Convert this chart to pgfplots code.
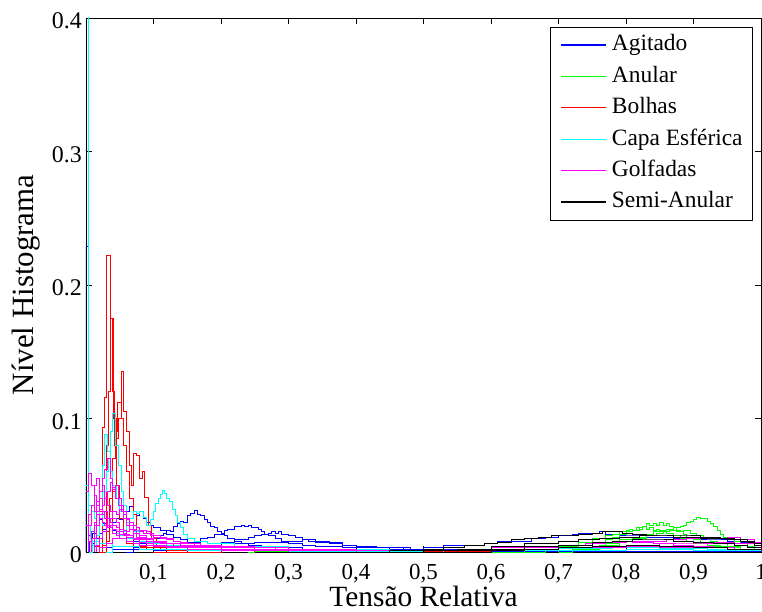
\documentclass[border=0pt]{standalone}
\usepackage{fontspec}
\setmainfont{Liberation Serif}
\usepackage{pgfplots}
\pgfplotsset{compat=1.18}
\definecolor{mBlue}{RGB}{0,0,255}
\definecolor{mGreen}{RGB}{0,255,0}
\definecolor{mRed}{RGB}{255,0,0}
\definecolor{mCyan}{RGB}{0,255,255}
\definecolor{mMag}{RGB}{255,0,255}
\definecolor{mBlack}{RGB}{0,0,0}
\pgfplotsset{hist/.style={const plot mark left, no markers, line width=1bp, color=#1, draw=#1, forget plot}}
\begin{document}
\begin{tikzpicture}
\path[use as bounding box] (-86bp,-60bp) rectangle (676bp,552bp);
\begin{axis}[
  at={(0,0)}, anchor=south west,
  scale only axis, width=675bp, height=534bp,
  xmin=0, xmax=1, ymin=0, ymax=0.4,
  xtick={0.1,0.2,0.3,0.4,0.5,0.6,0.7,0.8,0.9,1},
  xticklabels={{0,1},{0,2},{0,3},{0,4},{0,5},{0,6},{0,7},{0,8},{0,9},{1}},
  ytick={0,0.1,0.2,0.3,0.4},
  yticklabels={0,0.1,0.2,0.3,0.4},
  tick align=inside, major tick length=6bp,
  tick style={black, line width=0.6bp},
  axis line style={black, line width=0.8bp},
  xticklabel style={font=\fontsize{23}{25}\selectfont, inner sep=0pt, yshift=-12bp},
  yticklabel style={font=\fontsize{24}{26}\selectfont, inner sep=0pt, xshift=-4bp, yshift=-3bp},
  xlabel={Tensão Relativa},
  ylabel={Nível Histograma},
  xlabel style={font=\fontsize{29.5}{32}\selectfont, inner sep=0pt, at={(axis description cs:0.5,-0.1027)}, anchor=base},
  ylabel style={font=\fontsize{31}{34}\selectfont, at={(axis description cs:-0.089,0.5)}, anchor=center},
  legend cell align=left,
  legend image code/.code={\draw[#1] (0bp,0.5bp) -- (45bp,0.5bp);},
  legend style={at={(rel axis cs:1,1)}, anchor=north east, xshift=-8bp, yshift=-9bp,
    line width=0.8bp, font=\fontsize{23.5}{26}\selectfont,
    inner xsep=10bp, inner ysep=6.5bp, row sep=8.4bp,
    nodes={inner sep=0pt, text height=17bp, text depth=6bp},
    /tikz/every odd column/.append style={column sep=5bp}},
]
% ---------------- Agitado (blue)
\addplot[hist=mBlue] coordinates {(0,0)(0,0.229)(0.004,0.012)(0.008,0.006)(0.012,0.004)(0.02,0.003)(0.04,0.002)(0.1,0.001)(0.3,0.0005)(1,0)};
\addplot[hist=mBlue] coordinates {(0.06,0)(0.07,0.003)(0.08,0.004)(0.09,0.006)(0.1,0.008)(0.105,0.01)(0.11,0.012)(0.115,0.014)(0.12,0.016)(0.125,0.015)(0.13,0.019)(0.135,0.021)(0.14,0.023)(0.145,0.022)(0.15,0.027)(0.155,0.029)(0.16,0.031)(0.165,0.028)(0.17,0.027)(0.175,0.024)(0.18,0.022)(0.185,0.019)(0.19,0.018)(0.195,0.015)(0.2,0.013)(0.205,0.012)(0.21,0.01)(0.22,0.008)(0.23,0.006)(0.24,0.005)(0.26,0.004)(0.28,0.003)(0.32,0.002)(0.4,0.001)(0.5,0.0005)(0.6,0)};
\addplot[hist=mBlue] coordinates {(0.1,0)(0.12,0.004)(0.14,0.006)(0.16,0.008)(0.17,0.01)(0.18,0.011)(0.19,0.013)(0.2,0.014)(0.205,0.016)(0.21,0.017)(0.215,0.017)(0.22,0.019)(0.225,0.019)(0.23,0.02)(0.235,0.019)(0.24,0.02)(0.245,0.018)(0.25,0.018)(0.255,0.017)(0.26,0.015)(0.265,0.013)(0.27,0.012)(0.28,0.01)(0.29,0.008)(0.3,0.006)(0.32,0.005)(0.34,0.004)(0.38,0.003)(0.45,0.002)(0.55,0.001)(0.65,0)};
\addplot[hist=mBlue] coordinates {(0.13,0)(0.15,0.003)(0.18,0.005)(0.2,0.007)(0.22,0.009)(0.24,0.011)(0.25,0.012)(0.26,0.013)(0.27,0.014)(0.275,0.015)(0.28,0.014)(0.285,0.015)(0.29,0.013)(0.3,0.012)(0.31,0.011)(0.32,0.009)(0.33,0.008)(0.34,0.007)(0.36,0.006)(0.38,0.005)(0.4,0.004)(0.43,0.003)(0.48,0.002)(0.55,0.001)(0.65,0)};
\addplot[hist=mBlue] coordinates {(0.005,0)(0.01,0.005)(0.015,0.01)(0.02,0.014)(0.025,0.017)(0.03,0.02)(0.035,0.018)(0.04,0.022)(0.045,0.025)(0.05,0.024)(0.055,0.028)(0.06,0.03)(0.065,0.034)(0.07,0.03)(0.075,0.027)(0.08,0.03)(0.085,0.025)(0.09,0.022)(0.095,0.02)(0.1,0.018)(0.11,0.016)(0.12,0.013)(0.13,0.011)(0.14,0.009)(0.15,0.007)(0.17,0.005)(0.2,0.004)(0.25,0.003)(0.3,0.002)(0.4,0.001)(0.5,0)};
\addplot[hist=mBlue] coordinates {(0.005,0)(0.005,0.008)(0.01,0.014)(0.015,0.02)(0.02,0.024)(0.025,0.021)(0.03,0.018)(0.035,0.02)(0.04,0.016)(0.045,0.014)(0.05,0.012)(0.06,0.01)(0.07,0.008)(0.08,0.006)(0.1,0.005)(0.12,0.004)(0.15,0.003)(0.2,0.002)(0.3,0.001)(0.4,0)};
\addplot[hist=mBlue] coordinates {(0.12,0)(0.15,0.004)(0.2,0.006)(0.25,0.007)(0.3,0.008)(0.32,0.009)(0.34,0.008)(0.36,0.007)(0.38,0.005)(0.4,0.004)(0.43,0.003)(0.47,0.002)(0.5,0.002)(0.55,0.002)(0.6,0.001)(0.7,0)};
\addplot[hist=mBlue] coordinates {(0.4,0)(0.45,0.002)(0.5,0.003)(0.53,0.0045)(0.56,0.005)(0.59,0.006)(0.61,0.0075)(0.64,0.008)(0.66,0.01)(0.68,0.011)(0.7,0.012)(0.72,0.013)(0.73,0.014)(0.75,0.014)(0.76,0.015)(0.77,0.013)(0.79,0.012)(0.81,0.012)(0.83,0.011)(0.85,0.011)(0.87,0.01)(0.89,0.01)(0.91,0.009)(0.93,0.009)(0.95,0.008)(0.97,0.007)(0.99,0.005)(1,0)};
% ---------------- Anular (green)
\addplot[hist=mGreen] coordinates {(0.7,0)(0.7,0.001)(0.74,0.003)(0.77,0.006)(0.79,0.009)(0.81,0.011)(0.83,0.013)(0.84,0.015)(0.85,0.016)(0.86,0.017)(0.87,0.018)(0.88,0.019)(0.885,0.02)(0.89,0.022)(0.895,0.023)(0.9,0.024)(0.905,0.026)(0.91,0.025)(0.915,0.025)(0.92,0.023)(0.925,0.021)(0.93,0.019)(0.935,0.016)(0.94,0.013)(0.945,0.011)(0.95,0.009)(0.96,0.008)(0.97,0.006)(0.98,0.004)(0.99,0.002)(1,0)};
\addplot[hist=mGreen] coordinates {(0.65,0)(0.68,0.001)(0.72,0.003)(0.75,0.006)(0.77,0.009)(0.78,0.011)(0.79,0.013)(0.8,0.015)(0.81,0.016)(0.82,0.018)(0.825,0.019)(0.83,0.021)(0.835,0.02)(0.84,0.021)(0.845,0.02)(0.85,0.022)(0.855,0.02)(0.86,0.021)(0.865,0.019)(0.87,0.018)(0.875,0.016)(0.88,0.015)(0.885,0.013)(0.89,0.011)(0.9,0.009)(0.91,0.007)(0.92,0.005)(0.94,0.003)(0.97,0.001)(1,0)};
\addplot[hist=mGreen] coordinates {(0.6,0)(0.65,0.001)(0.7,0.004)(0.73,0.007)(0.75,0.01)(0.77,0.012)(0.78,0.013)(0.79,0.015)(0.8,0.016)(0.805,0.017)(0.81,0.016)(0.815,0.018)(0.82,0.017)(0.825,0.019)(0.83,0.017)(0.835,0.018)(0.84,0.016)(0.845,0.017)(0.85,0.015)(0.86,0.014)(0.87,0.012)(0.88,0.01)(0.89,0.008)(0.9,0.006)(0.92,0.004)(0.95,0.002)(1,0)};
\addplot[hist=mGreen] coordinates {(0.7,0)(0.72,0.002)(0.76,0.005)(0.79,0.008)(0.81,0.01)(0.83,0.012)(0.845,0.014)(0.855,0.015)(0.865,0.016)(0.875,0.015)(0.885,0.016)(0.895,0.014)(0.905,0.012)(0.915,0.01)(0.925,0.008)(0.935,0.006)(0.95,0.004)(0.97,0.002)(1,0)};
\addplot[hist=mGreen] coordinates {(0.24,0)(0.25,0.0006)(0.28,0.0004)(0.32,0)};
% ---------------- Bolhas (red)
\addplot[hist=mRed] coordinates {(0.015,0)(0.015,0.004)(0.02,0.03)(0.024,0.093)(0.027,0.116)(0.031,0.222)(0.036,0.175)(0.039,0.12)(0.042,0.08)(0.045,0.05)(0.05,0.03)(0.055,0.015)(0.06,0.008)(0.07,0.004)(0.09,0.002)(0.15,0.001)(0.3,0.0005)(0.6,0)};
\addplot[hist=mRed] coordinates {(0.025,0)(0.03,0.008)(0.035,0.02)(0.04,0.045)(0.045,0.085)(0.048,0.1)(0.052,0.135)(0.056,0.105)(0.06,0.09)(0.064,0.065)(0.068,0.05)(0.071,0.074)(0.075,0.072)(0.079,0.055)(0.083,0.06)(0.087,0.041)(0.092,0.02)(0.097,0.01)(0.105,0.005)(0.12,0.003)(0.2,0.001)(0.4,0)};
\addplot[hist=mRed] coordinates {(0.02,0)(0.025,0.005)(0.03,0.015)(0.035,0.04)(0.04,0.07)(0.043,0.09)(0.047,0.112)(0.052,0.1)(0.056,0.08)(0.06,0.06)(0.065,0.04)(0.07,0.028)(0.075,0.018)(0.08,0.01)(0.09,0.005)(0.11,0.002)(0.2,0.001)(0.3,0)};
\addplot[hist=mRed] coordinates {(0.02,0)(0.025,0.02)(0.03,0.08)(0.034,0.12)(0.037,0.175)(0.041,0.1)(0.045,0.05)(0.05,0.025)(0.055,0.012)(0.06,0.006)(0.08,0.003)(0.12,0.001)(0.25,0)};
\addplot[hist=mRed] coordinates {(0.1,0)(0.2,0.0008)(0.3,0.0006)(0.4,0.0005)(0.5,0.0004)(0.55,0)};
% ---------------- Capa Esferica (cyan)
\addplot[hist=mCyan] coordinates {(0,0)(0,0.45)(0.003,0.02)(0.006,0.01)(0.01,0.008)(0.02,0.006)(0.04,0.004)(0.08,0.002)(0.15,0.001)(0.3,0.0005)(0.5,0)};
\addplot[hist=mCyan] coordinates {(0.005,0)(0.01,0.005)(0.015,0.012)(0.02,0.025)(0.025,0.045)(0.03,0.06)(0.033,0.07)(0.036,0.09)(0.04,0.104)(0.044,0.08)(0.048,0.065)(0.052,0.045)(0.056,0.035)(0.06,0.025)(0.065,0.02)(0.07,0.015)(0.08,0.01)(0.09,0.007)(0.1,0.005)(0.15,0.003)(0.25,0.001)(0.4,0)};
\addplot[hist=mCyan] coordinates {(0.005,0)(0.01,0.01)(0.015,0.02)(0.02,0.04)(0.025,0.065)(0.028,0.088)(0.032,0.075)(0.036,0.06)(0.04,0.05)(0.045,0.04)(0.05,0.03)(0.055,0.03)(0.06,0.022)(0.065,0.02)(0.07,0.016)(0.08,0.012)(0.09,0.008)(0.1,0.006)(0.12,0.004)(0.2,0.002)(0.35,0)};
\addplot[hist=mCyan] coordinates {(0.03,0)(0.04,0.01)(0.05,0.015)(0.06,0.02)(0.065,0.025)(0.07,0.03)(0.075,0.029)(0.08,0.03)(0.085,0.026)(0.09,0.02)(0.095,0.024)(0.1,0.03)(0.103,0.036)(0.107,0.04)(0.11,0.043)(0.113,0.046)(0.117,0.044)(0.12,0.04)(0.124,0.038)(0.128,0.032)(0.132,0.027)(0.136,0.022)(0.14,0.018)(0.145,0.013)(0.15,0.01)(0.16,0.008)(0.18,0.006)(0.22,0.004)(0.3,0.002)(0.45,0.001)(0.6,0)};
\addplot[hist=mCyan] coordinates {(0,0)(0,0.05)(0.004,0.035)(0.008,0.03)(0.012,0.025)(0.016,0.03)(0.02,0.025)(0.025,0.02)(0.03,0.018)(0.04,0.014)(0.05,0.012)(0.06,0.01)(0.08,0.008)(0.1,0.006)(0.13,0.005)(0.18,0.003)(0.25,0.002)(0.4,0.001)(0.6,0)};
\addplot[hist=mCyan] coordinates {(0.5,0)(0.53,0.0008)(0.6,0.001)(0.7,0.0012)(0.8,0.0015)(0.9,0.0012)(0.97,0.0008)(1,0)};
\addplot[hist=mCyan] coordinates {(0.55,0)(0.6,0.002)(0.7,0.0025)(0.78,0.003)(0.85,0.0025)(0.92,0.002)(1,0)};
% ---------------- Golfadas (magenta)
\addplot[hist=mMag] coordinates {(0,0)(0,0.045)(0.004,0.059)(0.008,0.05)(0.012,0.042)(0.016,0.035)(0.02,0.04)(0.024,0.03)(0.028,0.025)(0.032,0.02)(0.036,0.018)(0.04,0.014)(0.045,0.012)(0.05,0.01)(0.06,0.008)(0.07,0.006)(0.08,0.005)(0.1,0.004)(0.12,0.003)(0.15,0.002)(0.2,0.001)(0.3,0)};
\addplot[hist=mMag] coordinates {(0.004,0)(0.004,0.02)(0.008,0.035)(0.012,0.05)(0.016,0.055)(0.02,0.045)(0.024,0.05)(0.028,0.04)(0.032,0.035)(0.036,0.03)(0.04,0.025)(0.045,0.022)(0.05,0.017)(0.055,0.014)(0.06,0.012)(0.07,0.009)(0.08,0.007)(0.09,0.006)(0.1,0.005)(0.12,0.004)(0.15,0.003)(0.2,0.002)(0.3,0.001)(0.4,0)};
\addplot[hist=mMag] coordinates {(0.008,0)(0.008,0.01)(0.012,0.02)(0.016,0.03)(0.02,0.045)(0.024,0.055)(0.028,0.062)(0.032,0.07)(0.036,0.055)(0.04,0.048)(0.044,0.04)(0.048,0.035)(0.052,0.03)(0.056,0.025)(0.06,0.02)(0.065,0.017)(0.07,0.014)(0.08,0.011)(0.09,0.009)(0.1,0.007)(0.11,0.006)(0.13,0.004)(0.16,0.003)(0.2,0.002)(0.3,0.001)(0.4,0)};
\addplot[hist=mMag] coordinates {(0.012,0)(0.012,0.01)(0.016,0.02)(0.02,0.028)(0.024,0.035)(0.028,0.04)(0.032,0.045)(0.036,0.052)(0.04,0.047)(0.044,0.05)(0.048,0.04)(0.052,0.035)(0.056,0.028)(0.06,0.024)(0.065,0.02)(0.07,0.017)(0.075,0.014)(0.08,0.012)(0.09,0.01)(0.1,0.008)(0.12,0.006)(0.14,0.004)(0.18,0.003)(0.25,0.002)(0.35,0.001)(0.5,0)};
\addplot[hist=mMag] coordinates {(0,0)(0,0.02)(0.004,0.028)(0.008,0.035)(0.012,0.03)(0.016,0.038)(0.02,0.032)(0.024,0.028)(0.028,0.03)(0.032,0.025)(0.036,0.022)(0.04,0.02)(0.045,0.018)(0.05,0.015)(0.055,0.016)(0.06,0.013)(0.065,0.012)(0.07,0.014)(0.075,0.011)(0.08,0.01)(0.09,0.009)(0.1,0.008)(0.11,0.007)(0.12,0.006)(0.14,0.005)(0.16,0.004)(0.2,0.003)(0.25,0.002)(0.35,0.001)(0.5,0)};
\addplot[hist=mMag] coordinates {(0.016,0)(0.016,0.005)(0.02,0.01)(0.025,0.015)(0.03,0.02)(0.035,0.025)(0.04,0.03)(0.045,0.028)(0.05,0.032)(0.055,0.03)(0.06,0.025)(0.065,0.022)(0.07,0.02)(0.075,0.018)(0.08,0.016)(0.085,0.014)(0.09,0.015)(0.095,0.012)(0.1,0.011)(0.11,0.01)(0.12,0.009)(0.13,0.008)(0.14,0.006)(0.16,0.005)(0.18,0.004)(0.22,0.003)(0.28,0.002)(0.4,0.001)(0.55,0)};
\addplot[hist=mMag] coordinates {(0.004,0)(0.004,0.008)(0.008,0.015)(0.012,0.022)(0.016,0.028)(0.02,0.025)(0.024,0.022)(0.028,0.02)(0.032,0.018)(0.036,0.02)(0.04,0.017)(0.045,0.015)(0.05,0.013)(0.055,0.012)(0.06,0.011)(0.07,0.01)(0.08,0.009)(0.09,0.008)(0.1,0.007)(0.12,0.006)(0.14,0.005)(0.17,0.004)(0.2,0.003)(0.25,0.002)(0.35,0.001)(0.5,0)};
\addplot[hist=mMag] coordinates {(0.02,0)(0.02,0.003)(0.03,0.006)(0.04,0.01)(0.05,0.013)(0.06,0.015)(0.065,0.017)(0.07,0.016)(0.075,0.018)(0.08,0.015)(0.085,0.016)(0.09,0.014)(0.1,0.012)(0.11,0.011)(0.12,0.01)(0.13,0.008)(0.14,0.007)(0.15,0.006)(0.17,0.005)(0.2,0.004)(0.25,0.003)(0.3,0.002)(0.4,0.001)(0.55,0)};
\addplot[hist=mMag] coordinates {(0.45,0)(0.5,0.001)(0.55,0.002)(0.6,0.003)(0.65,0.004)(0.7,0.005)(0.74,0.006)(0.77,0.007)(0.8,0.008)(0.83,0.008)(0.86,0.009)(0.89,0.01)(0.92,0.01)(0.95,0.011)(0.97,0.009)(0.99,0.007)(1,0)};
\addplot[hist=mMag] coordinates {(0.5,0)(0.55,0.001)(0.6,0.002)(0.65,0.003)(0.7,0.005)(0.74,0.006)(0.77,0.007)(0.79,0.008)(0.81,0.007)(0.84,0.006)(0.87,0.005)(0.9,0.004)(0.93,0.003)(0.96,0.002)(1,0)};
\addplot[hist=mMag] coordinates {(0.55,0)(0.6,0.001)(0.65,0.002)(0.7,0.003)(0.75,0.004)(0.8,0.005)(0.85,0.006)(0.9,0.006)(0.93,0.007)(0.96,0.006)(0.99,0.005)(1,0)};
\addplot[hist=mMag] coordinates {(0.5,0)(0.55,0.001)(0.6,0.0015)(0.65,0.002)(0.7,0.003)(0.75,0.0035)(0.8,0.004)(0.85,0.0035)(0.9,0.003)(0.95,0.002)(1,0)};
% ---------------- Semi-Anular (black)
\addplot[hist=mBlack] coordinates {(0.4,0)(0.45,0.001)(0.5,0.002)(0.53,0.003)(0.56,0.005)(0.59,0.006)(0.61,0.007)(0.63,0.009)(0.65,0.01)(0.67,0.011)(0.69,0.012)(0.71,0.012)(0.73,0.013)(0.75,0.014)(0.765,0.015)(0.78,0.015)(0.795,0.014)(0.81,0.013)(0.83,0.012)(0.85,0.012)(0.87,0.011)(0.89,0.011)(0.91,0.01)(0.93,0.01)(0.95,0.009)(0.97,0.008)(0.99,0.006)(1,0)};
\addplot[hist=mBlack] coordinates {(0.45,0)(0.5,0.001)(0.55,0.002)(0.6,0.004)(0.65,0.006)(0.7,0.008)(0.73,0.009)(0.76,0.01)(0.79,0.011)(0.82,0.012)(0.85,0.012)(0.88,0.012)(0.91,0.011)(0.94,0.01)(0.96,0.009)(0.98,0.007)(0.99,0.005)(1,0)};
\addplot[hist=mBlack] coordinates {(0.5,0)(0.55,0.001)(0.6,0.002)(0.65,0.004)(0.7,0.005)(0.75,0.007)(0.78,0.008)(0.81,0.009)(0.84,0.009)(0.87,0.008)(0.9,0.007)(0.93,0.006)(0.96,0.005)(0.98,0.003)(1,0)};
\addplot[hist=mBlack] coordinates {(0.5,0)(0.6,0.001)(0.65,0.002)(0.7,0.003)(0.75,0.004)(0.8,0.005)(0.85,0.004)(0.9,0.003)(0.95,0.002)(1,0)};
% ---------------- legend
\addlegendimage{draw=mBlue, line width=1.2bp}
\addlegendentry{Agitado}
\addlegendimage{draw=mGreen, line width=1.2bp}
\addlegendentry{Anular}
\addlegendimage{draw=mRed, line width=1.2bp}
\addlegendentry{Bolhas}
\addlegendimage{draw=mCyan, line width=1.2bp}
\addlegendentry{Capa Esférica}
\addlegendimage{draw=mMag, line width=1.2bp}
\addlegendentry{Golfadas}
\addlegendimage{draw=mBlack, line width=1.2bp}
\addlegendentry{Semi-Anular}
\end{axis}
\end{tikzpicture}
\end{document}
